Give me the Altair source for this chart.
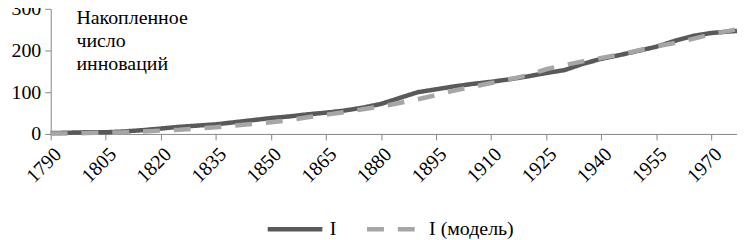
import altair as alt
import pandas as pd

years = [1790, 1795, 1800, 1805, 1810, 1815, 1820, 1825, 1830, 1835, 1840, 1845,
         1850, 1855, 1860, 1865, 1870, 1875, 1880, 1885, 1890, 1895, 1900, 1905,
         1910, 1915, 1920, 1925, 1930, 1935, 1940, 1945, 1950, 1955, 1960, 1965,
         1970, 1977]
actual = [2, 3, 4, 4, 6, 9, 13, 17, 20, 23, 28, 33,
          38, 42, 47, 51, 56, 63, 72, 86, 100, 107, 114, 120,
          125, 131, 138, 146, 153, 168, 180, 189, 199, 209, 223, 235,
          242, 247]
model = [1, 1, 2, 3, 4, 6, 8, 10, 13, 16, 20, 24,
         28, 33, 40, 46, 52, 59, 66, 74, 83, 93, 104, 113,
         122, 131, 141, 155, 165, 174, 182, 190, 200, 210, 218, 228,
         239, 251]
series_names = ["I", "I (модель)"]
x_ticks = [1790, 1805, 1820, 1835, 1850, 1865, 1880, 1895, 1910, 1925, 1940, 1955, 1970]
y_ticks = [0, 100, 200, 300]
annotation = ["Накопленное", "число", "инноваций"]

rows = []
for y, a in zip(years, actual):
    rows.append({"year": y, "value": a, "series": series_names[0], "order": 0})
for y, m in zip(years, model):
    rows.append({"year": y, "value": m, "series": series_names[1], "order": 1})
df = pd.DataFrame(rows)

FONT = "Liberation Serif"
FS = 20

x_enc = alt.X("year:Q", scale=alt.Scale(domain=[1790, 1977], nice=False, zero=False),
              axis=alt.Axis(values=x_ticks, format="d", labelAngle=-45, title=None,
                            labelFontSize=FS, labelFont=FONT, labelColor="black",
                            domainColor="#868686", tickColor="#868686", tickSize=6,
                            labelPadding=4, grid=False))
y_enc = alt.Y("value:Q", scale=alt.Scale(domain=[0, 300], nice=False),
              axis=alt.Axis(values=y_ticks, title=None, labelFontSize=FS, labelFont=FONT,
                            labelColor="black", domainColor="#868686", tickColor="#868686",
                            tickSize=6, labelPadding=4, grid=False))

lines = alt.Chart(df).mark_line(strokeWidth=4.5).encode(
    x=x_enc,
    y=y_enc,
    color=alt.Color("series:N", scale=alt.Scale(domain=series_names, range=["#595959", "#A6A6A6"]),
                    legend=alt.Legend(title=None, orient="none", direction="horizontal",
                                      legendX=216, legendY=192, labelFont=FONT, labelFontSize=FS,
                                      labelColor="black", symbolType="stroke", symbolSize=3025,
                                      symbolStrokeWidth=4.5, labelOffset=5, columnPadding=21)),
    strokeDash=alt.StrokeDash("series:N", scale=alt.Scale(domain=series_names, range=[[1, 0], [17, 14]]),
                              legend=None),
    order="order:Q",
    detail="series:N",
)

ann_df = pd.DataFrame({"year": [1797], "value": [264], "text": ["\n".join(annotation)]})
text = alt.Chart(ann_df).mark_text(align="left", baseline="alphabetic", font=FONT, fontSize=FS,
                                   lineBreak="\n", lineHeight=23.5, color="black").encode(
    x=alt.X("year:Q"), y=alt.Y("value:Q"), text="text:N")

chart = alt.layer(lines, text).properties(
    width=691, height=126,
    autosize=alt.AutoSizeParams(type="none"),
    padding={"left": 43, "top": 0, "right": 0, "bottom": 107},
).configure_view(stroke=None)

chart.save("out.html", embed_options={"renderer": "svg", "actions": False})
